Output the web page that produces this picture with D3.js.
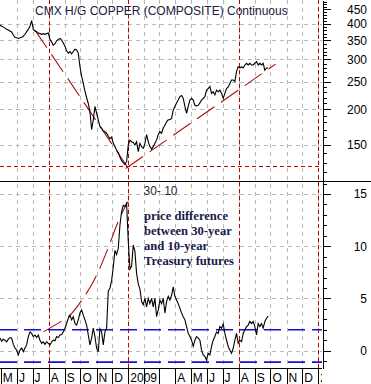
<!DOCTYPE html>
<html><head><meta charset="utf-8">
<script src="https://cdn.jsdelivr.net/npm/d3@7"></script>
<style>
html,body{margin:0;padding:0;background:#fff;}
svg{display:block;}
</style></head><body>
<svg id="chart" width="371" height="384" font-family="Liberation Sans, Arial, sans-serif"></svg>
<script>
// ---- data ----
const sampleStart = "2008-04-29T12:00:00Z";   // first observation
const sampleStepDays = 3.2;                    // spacing of the read-off observations
const copper = [
 397,393,390,387,383,381,378,375,366,359,
 358,356,358,359,362,368,376,383,393,411,
 383,378,376,372,370,368,370,368,370,372,
 353,346,337,341,349,353,356,351,343,334,
 322,316,320,314,320,326,324,316,283,262,
 247,232,220,210,196,170,184,205,194,184,
 174,172,168,167,165,161,158,160,152,148,
 144,141,136,132,130,128,131,150,156,154,
 153,150,154,142,152,148,146,152,163,154,
 148,145,148,152,156,163,167,165,172,176,
 181,184,184,186,199,205,211,216,222,224,
 219,205,194,205,216,219,216,207,206,207,
 211,216,219,222,234,237,241,228,231,225,
 234,231,234,228,219,228,237,240,247,254,
 254,251,272,283,280,283,280,287,291,287,
 291,287,287,291,295,287,291,287,291,275,
 280,280];
const spread = [
 1.2,0.9,1.1,1.0,0.85,1.1,1.25,1.2,0.6,0.25,
 0.05,-0.4,0.05,0.25,-0.1,0.25,0.55,1.35,1.8,1.65,
 1.35,1.5,1.25,1.5,1.0,0.7,0.85,0.6,0.85,0.7,
 0.55,0.85,1.0,0.95,1.35,1.25,1.5,1.55,1.8,2.15,
 2.6,3.1,3.4,2.95,3.25,2.6,2.45,2.95,3.6,3.9,
 3.4,2.95,2.45,1.5,0.55,1.2,2.15,1.35,0.25,-0.1,
 2.1,1.8,0.55,1.8,2.15,5.7,6.0,6.7,8.0,9.6,
 9.2,9.8,12.0,13.3,13.9,13.8,14.1,10.5,7.8,8.1,
 10.1,9.5,7.4,6.4,5.9,4.7,4.4,5.0,4.2,5.0,
 4.5,5.0,4.2,5.0,3.25,3.9,4.85,4.5,5.0,3.6,
 4.7,5.2,4.85,5.3,6.1,5.2,4.85,4.5,4.05,3.6,
 3.25,2.95,2.3,1.65,1.35,1.0,0.4,1.0,1.35,1.2,
 1.0,0.05,-0.4,-0.55,-0.9,-0.25,-0.4,0.4,1.0,1.35,
 1.8,1.65,2.3,2.15,2.55,1.65,1.0,0.4,0.05,-0.25,
 0.25,1.0,1.65,0.7,1.0,0.85,1.65,2.0,2.3,2.45,
 2.8,2.6,2.8,2.3,1.5,2.6,2.3,2.6,2.15,2.8,
 3.1,3.3];

const monthStart = "2008-05-01T00:00:00Z";
const monthLabels = ["M","J","J","A","S","O","N","D","2009","","","A","M","J","J","A","S","O","N","D","2010"];
const xDomain = ["2008-04-29T12:00:00Z","2010-01-08T02:00:00Z"];

const copperDomain = [112,486];
const copperTicks = [150,200,250,300,350,400,450];
const copperMinorTicks = [120,130,140,160,170,180,190,210,220,230,240,260,270,280,290,310,320,330,340,360,370,380,390,410,420,430,440,460,470,480];
const copperGrid = [150,200,250,300,350,400];

const spreadDomain = [-1.66,16.24];
const spreadTicks = [0,5,10,15];
const spreadMinorTicks = [-1,1,2,3,4,6,7,8,9,11,12,13,14,16];
const spreadGrid = [0,5,10,15];

const markerDates = ["2008-08-01","2009-01-01","2009-08-01","2010-01-01"];
const copperSupport = 126.5;
const spreadBands = [2.0,-1.1];
const trendDownDates = ["2008-07-06","2008-12-31"];
const trendDownValues = [380,125];
const trendUpDates = ["2008-12-27","2009-10-11"];
const trendUpValues = [124,289];
const spreadCurveDates = ["2008-07-22","2008-08-25","2008-09-08","2008-10-04","2008-11-01","2008-11-23","2008-12-12","2008-12-31"];
const spreadCurveValues = [1.8,2.8,3.25,4.85,7.2,9.8,12.3,14.25];

const titleText = "CMX H/G COPPER (COMPOSITE) Continuous";
const spreadLabel = "30- 10";
const noteLines = ["price difference","between 30-year","and 10-year","Treasury futures"];

// ---- layout ----
const W = 371, H = 384, plotR = 322, topB = 181, botB = 368;
const SANS = "Liberation Sans, Arial, sans-serif";
const SERIF = "Liberation Serif, Times New Roman, serif";
const svg = d3.select("#chart");
const day = 864e5;
const t0 = new Date(sampleStart);
const dates = copper.map((_, i) => new Date(+t0 + i * sampleStepDays * day));

const x = d3.scaleUtc().domain(xDomain.map(d => new Date(d))).range([0, plotR]);
const yTop = d3.scaleLog().domain(copperDomain).range([topB, 0]);
const yBot = d3.scaleLinear().domain(spreadDomain).range([botB, topB]);
const px = v => Math.round(v) + 0.5;

const months = d3.utcMonth.range(new Date(monthStart), new Date("2010-01-02T00:00:00Z"));

// gridlines
const grid = svg.append("g").attr("stroke", "#b8b8b8").attr("stroke-dasharray", "4,4").attr("shape-rendering", "crispEdges");
months.slice(1).forEach(m => {
  grid.append("line").attr("x1", px(x(m))).attr("x2", px(x(m))).attr("y1", 0).attr("y2", botB);
});
copperGrid.forEach(v => grid.append("line").attr("x1", 0).attr("x2", plotR).attr("y1", px(yTop(v))).attr("y2", px(yTop(v))));
spreadGrid.forEach(v => grid.append("line").attr("x1", 0).attr("x2", plotR).attr("y1", px(yBot(v))).attr("y2", px(yBot(v))));

// red marker verticals
markerDates.forEach(d => {
  const xx = px(x(new Date(d + "T00:00:00Z")));
  svg.append("line").attr("x1", xx).attr("x2", xx).attr("y1", 0).attr("y2", H)
    .attr("stroke", "#c00000").attr("stroke-dasharray", "4,3").attr("shape-rendering", "crispEdges");
});
// red support horizontal
svg.append("line").attr("x1", 0).attr("x2", plotR).attr("y1", px(yTop(copperSupport))).attr("y2", px(yTop(copperSupport)))
  .attr("stroke", "#c00000").attr("stroke-dasharray", "4,3").attr("shape-rendering", "crispEdges");
// blue bands
spreadBands.forEach(v => {
  svg.append("line").attr("x1", 0).attr("x2", plotR).attr("y1", yBot(v)).attr("y2", yBot(v))
    .attr("stroke", "#1414c8").attr("stroke-width", 1.6).attr("stroke-dasharray", "17,7");
});

// trend lines
const trendLine = d3.line().x(d => x(d[0])).y(d => yTop(d[1]));
[[trendDownDates, trendDownValues], [trendUpDates, trendUpValues]].forEach(([ds, vs]) => {
  svg.append("path").datum(ds.map((d, i) => [new Date(d + "T00:00:00Z"), vs[i]]))
    .attr("d", trendLine).attr("fill", "none").attr("stroke", "#a81010").attr("stroke-width", 1.1)
    .attr("stroke-dasharray", "21,8");
});
svg.append("path").datum(spreadCurveDates.map((d, i) => [new Date(d + "T00:00:00Z"), spreadCurveValues[i]]))
  .attr("d", d3.line().x(d => x(d[0])).y(d => yBot(d[1])).curve(d3.curveMonotoneX))
  .attr("fill", "none").attr("stroke", "#a81010").attr("stroke-width", 1.1).attr("stroke-dasharray", "21,8");

// data lines
svg.append("path").datum(copper.map((v, i) => [dates[i], v]))
  .attr("d", d3.line().x(d => x(d[0])).y(d => yTop(d[1])))
  .attr("fill", "none").attr("stroke", "#000").attr("stroke-width", 1.1);
svg.append("path").datum(spread.map((v, i) => [dates[i], v]))
  .attr("d", d3.line().x(d => x(d[0])).y(d => yBot(d[1])))
  .attr("fill", "none").attr("stroke", "#000").attr("stroke-width", 1.1);

// panel separator and x band line
svg.append("line").attr("x1", 0).attr("x2", W).attr("y1", topB + 0.5).attr("y2", topB + 0.5).attr("stroke", "#000").attr("shape-rendering", "crispEdges");
svg.append("line").attr("x1", 0).attr("x2", plotR).attr("y1", botB + 0.5).attr("y2", botB + 0.5).attr("stroke", "#000").attr("shape-rendering", "crispEdges");

// right axes
function styleAxis(g) {
  g.attr("shape-rendering", "crispEdges").attr("font-family", SANS);
  g.selectAll("text").attr("font-size", 12).attr("fill", "#000").attr("text-anchor", "end")
    .attr("x", 366.5 - plotR);
  g.selectAll(".tick line").attr("stroke", "#000");
  g.select(".domain").attr("stroke", "#000");
}
const axTop = svg.append("g").attr("transform", `translate(${plotR + 0.5},0)`)
  .call(d3.axisRight(yTop).tickValues(copperTicks).tickFormat(d3.format("d")).tickSize(8).tickSizeOuter(0));
styleAxis(axTop);
const axTopMinor = svg.append("g").attr("transform", `translate(${plotR + 0.5},0)`)
  .call(d3.axisRight(yTop).tickValues(copperMinorTicks).tickFormat("").tickSize(4).tickSizeOuter(0));
axTopMinor.select(".domain").remove(); styleAxis(axTopMinor);
const axBot = svg.append("g").attr("transform", `translate(${plotR + 0.5},0)`)
  .call(d3.axisRight(yBot).tickValues(spreadTicks).tickFormat(d3.format("d")).tickSize(8).tickSizeOuter(0));
styleAxis(axBot);
const axBotMinor = svg.append("g").attr("transform", `translate(${plotR + 0.5},0)`)
  .call(d3.axisRight(yBot).tickValues(spreadMinorTicks).tickFormat("").tickSize(4).tickSizeOuter(0));
axBotMinor.select(".domain").remove(); styleAxis(axBotMinor);

// x band: separators + labels
svg.append("clipPath").attr("id", "xclip").append("rect").attr("x", 0).attr("y", botB).attr("width", plotR).attr("height", H - botB);
const xb = svg.append("g").attr("clip-path", "url(#xclip)");
months.forEach((m, i) => {
  const xx = px(x(m));
  xb.append("line").attr("x1", xx).attr("x2", xx).attr("y1", botB).attr("y2", H).attr("stroke", "#000").attr("shape-rendering", "crispEdges");
  if (monthLabels[i]) xb.append("text").attr("x", x(m) + 2).attr("y", 381.5).attr("font-size", 12).attr("fill", "#000").text(monthLabels[i]);
});

// texts
svg.append("text").attr("x", 35).attr("y", 15).attr("font-size", 12).attr("fill", "#20203a").text(titleText);
svg.append("text").attr("x", 143.5).attr("y", 195).attr("font-size", 12).attr("fill", "#2a2a3a").text(spreadLabel);
noteLines.forEach((t, i) => {
  svg.append("text").attr("x", 144).attr("y", 219.5 + i * 15.3)
    .attr("font-family", SERIF).attr("font-weight", "bold")
    .attr("font-size", 12.6).attr("fill", "#1a1a4a").text(t);
});
</script>
</body></html>
